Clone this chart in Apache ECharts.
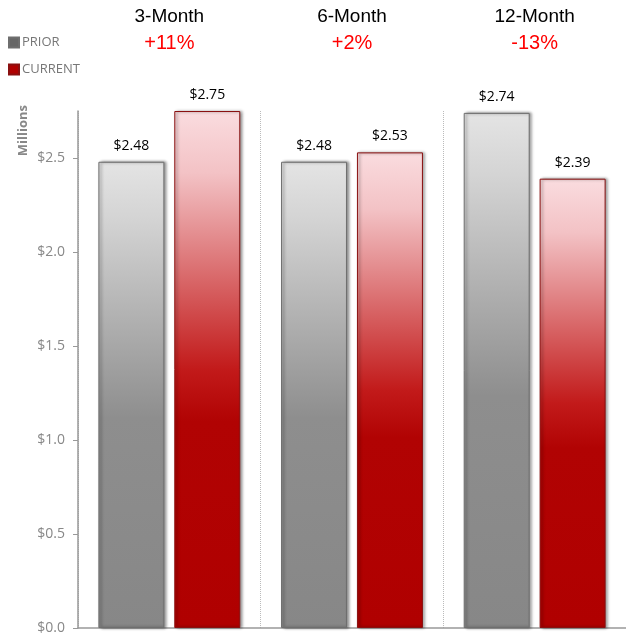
<!DOCTYPE html>
<html><head><meta charset="utf-8">
<script src="https://cdn.jsdelivr.net/npm/echarts@6/dist/echarts.min.js"></script>
<style>html,body{margin:0;padding:0;background:#fff}#c{width:626px;height:637px}</style>
</head><body><div id="c"></div>
<script>
const categories = ['3-Month', '6-Month', '12-Month'];
const changes = ['+11%', '+2%', '-13%'];
const prior = [2.48, 2.48, 2.74];
const current = [2.75, 2.53, 2.39];
const yTicks = ['$0.0', '$0.5', '$1.0', '$1.5', '$2.0', '$2.5'];

const grayGrad = new echarts.graphic.LinearGradient(0, 0, 0, 1, [
  {offset: 0, color: '#e4e4e4'}, {offset: 0.12, color: '#d4d4d4'},
  {offset: 0.55, color: '#8e8e8e'}, {offset: 1, color: '#878787'}]);
const redGrad = new echarts.graphic.LinearGradient(0, 0, 0, 1, [
  {offset: 0, color: '#fadcdf'}, {offset: 0.12, color: '#f3c2c5'},
  {offset: 0.5, color: '#c21a1a'}, {offset: 0.6, color: '#b10303'}, {offset: 1, color: '#b00000'}]);

const chart = echarts.init(document.getElementById('c'));
const labelStyle = {show: true, position: 'top', distance: 9, color: '#000', fontSize: 14, fontFamily: 'Open Sans', formatter: p => '$' + p.value.toFixed(2)};
chart.setOption({
  animation: false,
  legend: {
    orient: 'vertical', left: 3, top: 31, itemWidth: 10, itemHeight: 10, itemGap: 14, icon: 'rect',
    textStyle: {color: '#777', fontSize: 13, fontFamily: 'Open Sans', padding: [0, 0, 0, -2]},
    data: [{name: 'PRIOR', itemStyle: {color: '#666'}}, {name: 'CURRENT', itemStyle: {color: '#b00000'}}]
  },
  graphic: [{
    type: 'text', left: 17, top: 105, rotation: Math.PI / 2,
    style: {text: 'Millions', fill: '#888', fontSize: 13, fontWeight: 'bold', fontFamily: 'Open Sans'}
  }],
  grid: {left: 78, right: 0, top: 111, bottom: 9},
  xAxis: [{
    type: 'category', data: categories, position: 'bottom',
    axisLine: {lineStyle: {color: '#999', width: 1.5}}, axisTick: {show: false}, axisLabel: {show: false},
    splitLine: {show: true, lineStyle: {color: '#bbb', type: 'dotted', width: 1}}
  }, {
    type: 'category', data: categories, position: 'top',
    axisLine: {show: false}, axisTick: {show: false},
    axisLabel: {
      margin: 55, interval: 0,
      formatter: (v, i) => '{a|' + v + '}\n{b|' + changes[i] + '}',
      rich: {
        a: {fontSize: 19, color: '#000', fontFamily: 'Liberation Sans', lineHeight: 26, align: 'center'},
        b: {fontSize: 20, color: '#ff0000', fontFamily: 'Liberation Sans', lineHeight: 26, align: 'center'}
      }
    }
  }],
  yAxis: {
    type: 'value', min: 0, max: 2.75, interval: 0.5,
    axisLine: {show: true, lineStyle: {color: '#999', width: 1.5}},
    axisTick: {show: true, length: 5, lineStyle: {color: '#999'}},
    splitLine: {show: false},
    axisLabel: {color: '#888', fontSize: 14, fontFamily: 'Open Sans', margin: 13, showMaxLabel: false,
      formatter: v => { const i = Math.round(v / 0.5); return (Math.abs(v - i * 0.5) < 1e-6 && yTicks[i]) ? yTicks[i] : ''; }}
  },
  series: [{
    name: 'PRIOR', type: 'bar', data: prior, barWidth: 66, barGap: '15%',
    itemStyle: {color: grayGrad, borderColor: '#6e6e6e', borderWidth: 1, shadowColor: 'rgba(0,0,0,0.45)', shadowBlur: 3, shadowOffsetX: 2, shadowOffsetY: 0},
    label: labelStyle
  }, {
    name: 'CURRENT', type: 'bar', data: current, barWidth: 66,
    itemStyle: {color: redGrad, borderColor: '#8a1010', borderWidth: 1, shadowColor: 'rgba(0,0,0,0.45)', shadowBlur: 3, shadowOffsetX: 2, shadowOffsetY: 0},
    label: labelStyle
  }]
});
</script></body></html>
